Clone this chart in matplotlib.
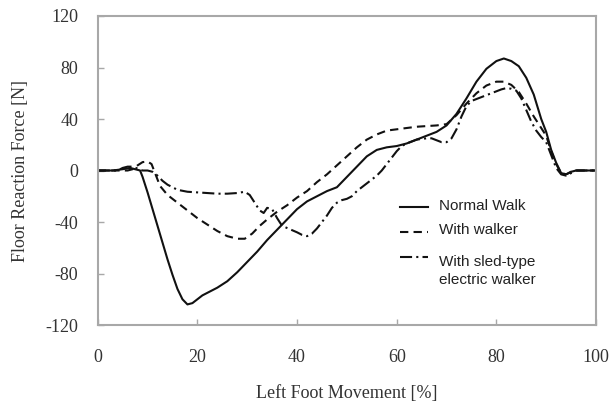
import matplotlib
matplotlib.use("Agg")
import matplotlib.pyplot as plt

plt.rcParams["axes.unicode_minus"] = False

# Floor reaction force of the left foot over one gait cycle
normal_x = [0, 3, 5, 6.5, 8, 8.5, 9, 10, 11, 12, 13, 14, 15, 16, 17, 18, 19, 20,
            21, 22, 24, 26, 28, 30, 32, 34, 36, 38, 40, 42, 44, 46, 48, 50, 52,
            54, 56, 58, 60, 62, 64, 66, 68, 70, 72, 74, 76, 78, 80, 81.5, 83,
            84.5, 86, 87.5, 89, 90, 91, 92, 93, 94, 95, 96, 100]
normal_y = [0, 0, 1, 2, 0.5, 0, -5, -17, -30, -43, -56, -69, -81, -92, -100, -104,
            -103, -100, -97, -95, -91, -86, -79, -71, -63, -54, -46, -38, -30,
            -24, -20, -16, -13, -5, 3, 11, 16, 18, 19, 21, 24, 27, 30, 35, 44,
            56, 69, 79, 85, 87, 85, 81, 72, 59, 40, 30, 16, 6, -2, -3, -1, 0, 0]

walker_x = [0, 6, 7, 8, 9, 10, 10.8, 11.5, 12.5, 14, 16, 18, 20, 22, 24, 26, 28,
            29.5, 31, 32.5, 34, 36, 38, 40, 42, 44, 46, 48, 50, 52, 54, 56, 58,
            60, 62, 64, 66, 68, 70, 72, 74, 76, 78, 80, 81.5, 83, 84.5, 86, 87.5,
            89, 90, 91, 92, 93, 94, 95, 96, 100]
walker_y = [0, 0, 1, 4, 6.5, 7, 5, -2, -12, -19, -25, -31, -37, -42, -47, -51,
            -53, -53, -49, -43, -38, -32, -27, -21, -16, -9, -3, 4, 11, 18, 24,
            28, 31, 32, 33, 34, 34.5, 35, 36, 43, 52, 60, 66, 69, 69, 66.5, 61,
            52, 42, 33, 27, 15, 5, -2, -3, -1, 0, 0]

sled_x = [0, 4, 5, 6, 7, 8, 9, 10, 11, 12, 13, 14, 15, 16, 18, 20, 22, 24, 26,
          28, 29.5, 30.5, 31.5, 32.5, 33.3, 34, 35, 36, 37, 38.5, 40, 41, 42,
          43, 44, 45, 46, 47, 48, 49, 50, 51, 52, 54, 56, 57, 58, 59, 60, 61,
          62, 64, 66, 67, 68, 69, 70, 71, 72, 73, 74, 75, 77, 79, 81, 82, 83,
          84, 85, 86, 87, 88, 89, 90, 91, 92, 93, 94, 95, 96, 100]
sled_y = [0, 0, 2, 3, 3, 1.5, 0, 0, -1, -4, -8, -11, -13, -15, -16.5, -17,
          -17.5, -18, -18, -17.5, -16.5, -19, -25, -31, -33, -29, -30, -37,
          -43, -45.5, -48, -50, -51, -49, -45, -40, -35, -29, -25, -23, -22,
          -20, -16, -10, -4, 0, 5, 10, 15, 19, 21, 24, 25, 25, 23.5, 22, 22,
          25, 32, 42, 50, 54, 57, 60, 63, 64, 63.5, 62, 56, 47, 38, 31, 26,
          22, 12, 2, -3, -4, -2, 0, 0]

series_labels = ["Normal Walk", "With walker", "With sled-type\nelectric walker"]
x_ticks = [0, 20, 40, 60, 80, 100]
y_ticks = [-120, -80, -40, 0, 40, 80, 120]

fig = plt.figure(figsize=(6.12, 4.05), dpi=100)
ax = fig.add_axes([0.1597, 0.1975, 0.8142, 0.763])

lw = 1.5
styles = [
    dict(linestyle="-"),
    dict(linestyle=(0, (4, 2.5))),
    dict(linestyle=(0, (5.8, 2, 1, 2))),
]
series = [(normal_x, normal_y), (walker_x, walker_y), (sled_x, sled_y)]
for (xs, ys), st in zip(series, styles):
    ax.plot(xs, ys, color="#111111", linewidth=lw, **st)

ax.set_xlim(0, 100)
ax.set_ylim(-120, 120)
ax.set_xticks(x_ticks)
ax.set_yticks(y_ticks)

serif = "Liberation Serif"
for sp in ax.spines.values():
    sp.set_color("#a8a8a8")
    sp.set_linewidth(1.5)
ax.tick_params(axis="both", direction="in", length=4, width=1, color="#a8a8a8",
               labelsize=13, labelcolor="#333333")
ax.tick_params(axis="y", pad=14)
ax.tick_params(axis="x", pad=17)
for lab in ax.get_xticklabels() + ax.get_yticklabels():
    lab.set_fontfamily(serif)

ax.set_xlabel("Left Foot Movement [%]", fontfamily=serif, fontsize=13,
              color="#333333", labelpad=14)
ax.set_ylabel("Floor Reaction Force [N]", fontfamily=serif, fontsize=13,
              color="#333333", labelpad=12)

# hand-placed legend: handle on the first line of each label
rows = [0.381, 0.301, 0.220]
for lab, st, yr in zip(series_labels, styles, rows):
    ax.plot([0.607, 0.663], [yr, yr], transform=ax.transAxes, color="#111111",
            linewidth=lw, **st)
    ax.text(0.685, yr + 0.005, lab, transform=ax.transAxes, ha="left", va="top"
            if "\n" in lab else "center", fontsize=11, family="Liberation Sans",
            color="#222222", linespacing=1.3)

fig.savefig("out.png", dpi=100)
